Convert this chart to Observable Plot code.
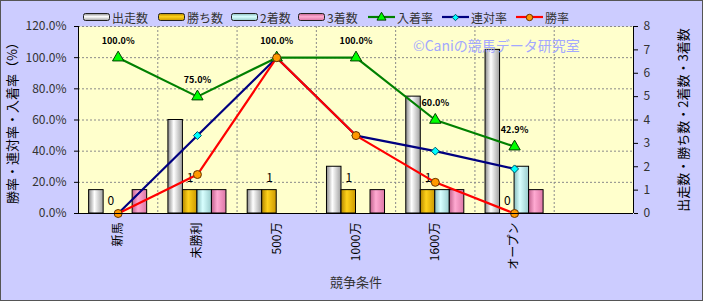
<!DOCTYPE html>
<html><head><meta charset="utf-8">
<script src="https://cdn.jsdelivr.net/npm/d3@7"></script>
<script src="https://cdn.jsdelivr.net/npm/@observablehq/plot@0.6"></script>
<style>
html,body{margin:0;padding:0;background:#fff;}
#wrap{position:relative;width:703px;height:301px;font-family:"Noto Sans CJK JP","Noto Sans",sans-serif;}
#wrap svg.main{display:block;outline:1px solid #555;outline-offset:-1px;}
.li{position:absolute;top:8px;display:flex;align-items:center;height:18px;white-space:nowrap;font-size:12px;color:#333;}
.li svg{margin-right:2px;}
.wm{position:absolute;left:413px;top:35px;font-size:14px;color:#a3a8ff;white-space:nowrap;}
</style></head><body><div id="wrap"></div>
<script>
// ---- data ----
const categories = ["新馬", "未勝利", "500万", "1000万", "1600万", "オープン"];
const runs    = [1, 4, 1, 2, 5, 7];   // 出走数
const wins    = [0, 1, 1, 1, 1, 0];   // 勝ち数
const seconds = [0, 1, 0, 0, 1, 2];   // 2着数
const thirds  = [1, 1, 0, 1, 1, 1];   // 3着数
const winRate    = [0, 25, 100, 50, 20, 0];        // 勝率 %
const rentaiRate = [0, 50, 100, 50, 40, 28.6];     // 連対率 %
const placeRate  = [100, 75, 100, 100, 60, 42.9];  // 入着率 %
const rateTicks  = [0, 20, 40, 60, 80, 100, 120];
const countTicks = [0, 1, 2, 3, 4, 5, 6, 7, 8];

// ---- build ----
const PER = 120 / 8; // one count on the right axis equals 15% on the left
const rows = categories.map((c, i) => ({
  i, cat: c, runs: runs[i], wins: wins[i], seconds: seconds[i], thirds: thirds[i],
  win: winRate[i], rentai: rentaiRate[i], place: placeRate[i]
}));
const BW = 0.183, GOFF = -0.366;
const barSeries = [
  {key: "runs", name: "出走数", grad: "gRuns", edge: "#8a8a8a", mid: "#ffffff", end: "#a0a0a0"},
  {key: "wins", name: "勝ち数", grad: "gWins", edge: "#b38600", mid: "#ffd21a", end: "#cc9900"},
  {key: "seconds", name: "2着数", grad: "gSec", edge: "#88bcbc", mid: "#d8ffff", end: "#99cccc"},
  {key: "thirds", name: "3着数", grad: "gThird", edge: "#c0608c", mid: "#ffaad2", end: "#dd77a6"}
];
const lineSeries = [
  {key: "place", name: "入着率", color: "#008000", symbol: "triangle", fill: "#00ff00", r: 4.2, mstroke: "#004000"},
  {key: "rentai", name: "連対率", color: "#000080", symbol: "diamond2", fill: "#00ffff", r: 3.6, mstroke: "#005566"},
  {key: "win", name: "勝率", color: "#ff0000", symbol: "circle", fill: "#ff9900", r: 4, mstroke: "#663300"}
];
const cx = d => d.i + 0.5;

const barMarks = barSeries.map((s, j) => Plot.rectY(rows.filter(d => d[s.key] > 0), {
  x1: d => cx(d) + GOFF + j * BW,
  x2: d => cx(d) + GOFF + (j + 1) * BW,
  y1: 0, y2: d => d[s.key] * PER,
  fill: `url(#${s.grad})`, stroke: "#000", strokeWidth: 1
}));
const lineMarks = lineSeries.map(s => Plot.line(rows, {x: cx, y: s.key, stroke: s.color, strokeWidth: 2.2}));
const dotMarks = lineSeries.map(s => Plot.dot(rows, {x: cx, y: s.key, symbol: s.symbol, r: s.r, fill: s.fill, stroke: s.mstroke, strokeWidth: 1}));

const chart = Plot.plot({
  width: 703, height: 301,
  marginLeft: 78, marginRight: 70, marginTop: 26, marginBottom: 88,
  style: {fontFamily: '"Noto Sans CJK JP","Noto Sans",sans-serif', fontSize: "12px", background: "#ccccff", color: "#333"},
  x: {domain: [0, 7]},
  y: {domain: [0, 120]},
  marks: [
    Plot.frame({fill: "#ffffcc", stroke: null}),
    Plot.gridY({ticks: rateTicks.slice(1), stroke: "#8a8a8a", strokeOpacity: 1, strokeDasharray: "2,2"}),
    Plot.gridX({ticks: [1, 2, 3, 4, 5, 6], stroke: "#8a8a8a", strokeOpacity: 1, strokeDasharray: "2,2"}),
    ...barMarks,
    Plot.text(rows, {x: d => cx(d) + GOFF + 1.5 * BW, y: d => d.wins * PER, text: d => String(d.wins), dy: -12, fontSize: 12, fill: "#000"}),
    ...lineMarks,
    ...dotMarks,
    Plot.text(rows, {x: cx, y: "place", text: d => d.place.toFixed(1) + "%", dy: -17, fontSize: 9, fontWeight: "bold", fill: "#000"}),
    Plot.ruleX([0, 7], {stroke: "#000", strokeWidth: 1}),
    Plot.ruleY([0], {stroke: "#000", strokeWidth: 1}),
    Plot.axisY({ticks: rateTicks, tickFormat: d => d.toFixed(1) + "%", tickSize: 4, tickPadding: 8, label: null, fill: "#333", stroke: "#000"}),
    Plot.axisY({anchor: "right", ticks: countTicks.map(k => k * PER), tickFormat: d => String(d / PER), tickSize: 4, tickPadding: 6, label: null, fill: "#333", stroke: "#000"}),
    Plot.axisX({ticks: categories.map((c, i) => i + 0.5), tickFormat: d => categories[Math.floor(d)], tickRotate: -90, tickSize: 0, tickPadding: 9, label: null, fill: "#000", fontSize: 12}),
    Plot.text(["勝率・連対率・入着率（%）"], {frameAnchor: "left", dx: -66, rotate: -90, textAnchor: "middle", fontSize: 13, fill: "#000"}),
    Plot.text(["出走数・勝ち数・2着数・3着数"], {frameAnchor: "right", dx: 50, rotate: -90, textAnchor: "middle", fontSize: 13, fill: "#000"}),
    Plot.text(["競争条件"], {frameAnchor: "bottom", dy: 73, fontSize: 13, fill: "#333"})
  ]
});
chart.classList.add("main");

// gradients for cylinder-like bars
const svg = d3.select(chart);
const defs = svg.insert("defs", ":first-child");
barSeries.forEach(s => {
  const g = defs.append("linearGradient").attr("id", s.grad).attr("x1", 0).attr("x2", 1).attr("y1", 0).attr("y2", 0);
  g.append("stop").attr("offset", "0%").attr("stop-color", s.edge);
  g.append("stop").attr("offset", "40%").attr("stop-color", s.mid);
  g.append("stop").attr("offset", "100%").attr("stop-color", s.end);
  const v = defs.append("linearGradient").attr("id", s.grad + "V").attr("x1", 0).attr("x2", 0).attr("y1", 0).attr("y2", 1);
  v.append("stop").attr("offset", "0%").attr("stop-color", s.edge);
  v.append("stop").attr("offset", "45%").attr("stop-color", s.mid);
  v.append("stop").attr("offset", "100%").attr("stop-color", s.end);
});

const wrap = document.getElementById("wrap");
wrap.appendChild(chart);

// legend
const legendLefts = [83, 158, 231, 298, 368, 442, 516];
const items = [...barSeries.map(s => ({type: "bar", s})), ...lineSeries.map(s => ({type: "line", s}))];
items.forEach((it, k) => {
  const div = document.createElement("div");
  div.className = "li";
  div.style.left = legendLefts[k] + "px";
  const ic = d3.create("svg").attr("width", 27).attr("height", 12);
  if (it.type === "bar") {
    ic.append("rect").attr("x", 0.5).attr("y", 2.5).attr("width", 26).attr("height", 7).attr("rx", 2)
      .attr("fill", `url(#${it.s.grad}V)`).attr("stroke", "#222");
  } else {
    ic.append("line").attr("x1", 0).attr("x2", 27).attr("y1", 6).attr("y2", 6).attr("stroke", it.s.color).attr("stroke-width", 2.2);
    const sym = {triangle: d3.symbolTriangle, diamond2: d3.symbolDiamond2, circle: d3.symbolCircle}[it.s.symbol];
    ic.append("path").attr("transform", "translate(13.5,6.5)")
      .attr("d", d3.symbol(sym, Math.PI * (it.s.r * 0.8) ** 2)())
      .attr("fill", it.s.fill).attr("stroke", it.s.mstroke);
  }
  div.appendChild(ic.node());
  const t = document.createElement("span");
  t.textContent = it.s.name;
  div.appendChild(t);
  wrap.appendChild(div);
});
const wm = document.createElement("div");
wm.className = "wm";
wm.textContent = "©Caniの競馬データ研究室";
wrap.appendChild(wm);
</script></body></html>
